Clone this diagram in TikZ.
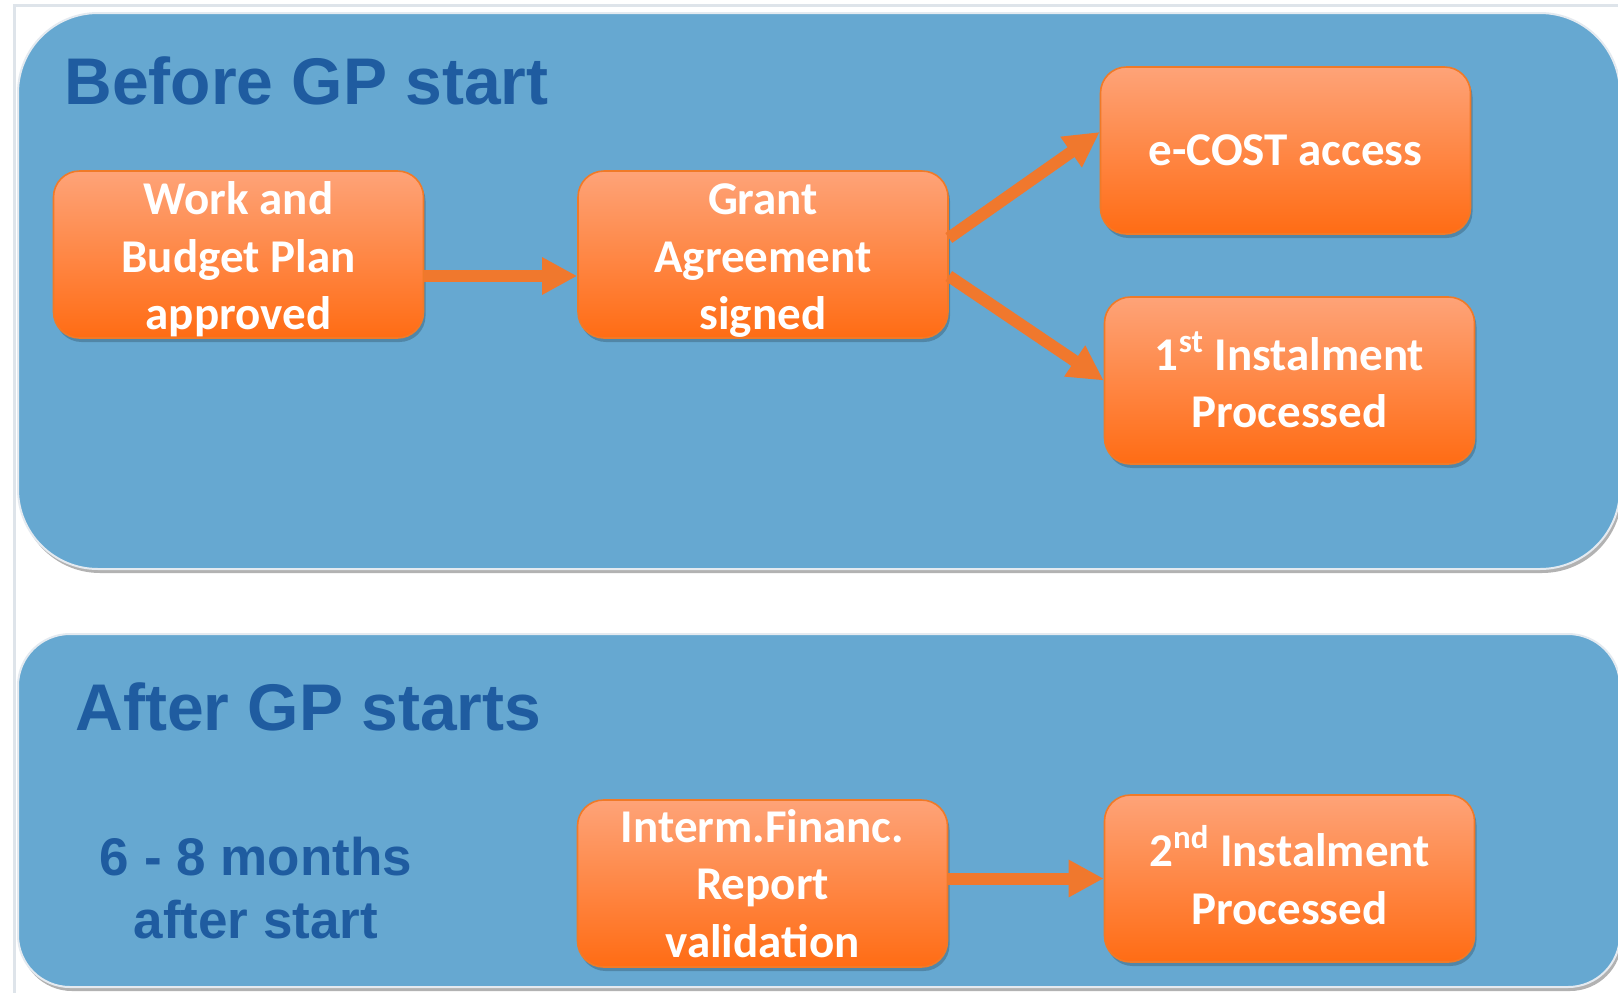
\documentclass[tikz,border=0pt]{standalone}
\usepackage{fontspec}
\setmainfont{Carlito}
\newfontfamily\headfont{Liberation Sans}
\usetikzlibrary{arrows.meta,shadows}
\definecolor{panelblue}{RGB}{102,168,209}
\definecolor{paneledge}{RGB}{228,234,240}
\definecolor{headblue}{RGB}{31,92,160}
\definecolor{boxtop}{RGB}{254,163,120}
\definecolor{boxbot}{RGB}{255,108,20}
\definecolor{boxline}{RGB}{240,122,40}
\definecolor{arrowc}{RGB}{240,120,45}
\definecolor{framec}{RGB}{222,228,234}
\begin{document}
\begin{tikzpicture}[x=0.5pt,y=-0.5pt,
  panel/.style={fill=panelblue, draw=paneledge, line width=1pt,
    drop shadow={shadow xshift=1pt, shadow yshift=-2pt, fill=black, opacity=0.3}},
  procbox/.style={rounded corners=13pt, minimum width=185pt, minimum height=83.5pt,
    inner sep=0pt, top color=boxtop, bottom color=boxbot, draw=boxline, line width=0.8pt,
    text=white, font=\bfseries\fontsize{23.5}{28.75}\selectfont, align=center,
    drop shadow={shadow xshift=1pt, shadow yshift=-2pt, opacity=0.2, fill=black}},
  heading/.style={font=\headfont\bfseries\fontsize{33}{40}\selectfont, text=headblue,
    inner sep=0pt, anchor=base west},
  subhead/.style={font=\headfont\bfseries\fontsize{26.5}{31.5}\selectfont, text=headblue,
    inner sep=0pt, align=center},
  arr/.style={draw=arrowc, line width=6pt, -{Triangle[length=17.5pt,width=17.5pt]}}
]
\useasboundingbox (0,0) rectangle (1618,992);
\clip (0,0) rectangle (1618,992);
\fill[white] (0,0) rectangle (1618,992);
\draw[framec, line width=1.5pt] (14,1000) -- (14,5) -- (1630,5);

\path[panel, rounded corners=40pt] (18,13) rectangle (1620,569);
\path[panel, rounded corners=26pt] (18,634) rectangle (1620,987);

\node[heading] (h1) at (64,104) {Before GP start};
\node[heading] (h2) at (75,730) {After GP starts};
\node[subhead] (mon) at (256,888) {6 - 8 months\\after start};

\node[procbox] (b1) at (238.5,254.5) {\rule{0pt}{21.6pt}Work and\\Budget Plan\\approved};
\node[procbox] (b2) at (763,254.5) {\rule{0pt}{21.6pt}Grant\\Agreement\\signed};
\node[procbox] (b3) at (1285.5,150.5) {e-COST access};
\node[procbox] (b4) at (1289.5,380.5) {1\textsuperscript{st} Instalment\\Processed\rule[-1pt]{0pt}{1pt}};
\node[procbox] (b5) at (762.5,883.5) {Interm.Financ.\\Report\\validation};
\node[procbox] (b6) at (1289.5,878.5) {2\textsuperscript{nd} Instalment\\Processed\rule[-3.5pt]{0pt}{1pt}};

\draw[arr] ([yshift=-10.75pt]b1.east) -- ([yshift=-10.75pt]b2.west);
\draw[arr] ([yshift=8.25pt]b2.east) -- ([yshift=9.25pt]b3.west);
\draw[arr] ([yshift=-10.75pt]b2.east) -- (b4.west);
\draw[arr] (b5.east |- b6.west) -- (b6.west);
\end{tikzpicture}
\end{document}
